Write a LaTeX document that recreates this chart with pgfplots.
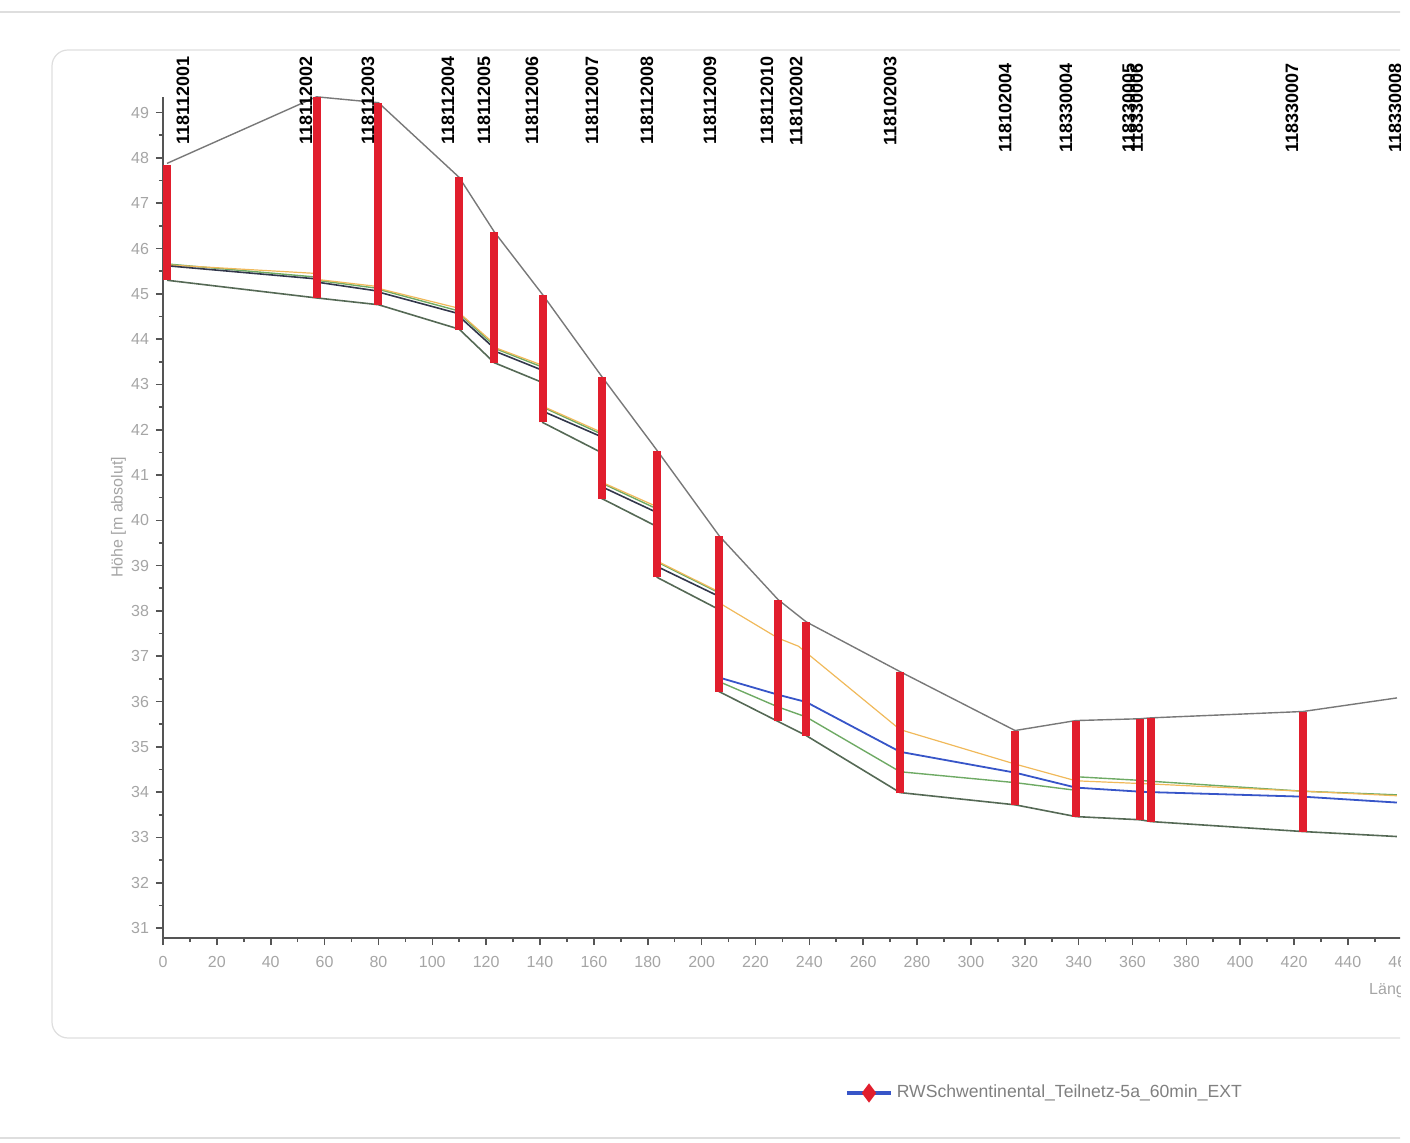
\documentclass[border=0pt]{standalone}
\usepackage{fontspec}
\setmainfont{Liberation Sans}
\usepackage{pgfplots}
\pgfplotsset{compat=1.18}

\definecolor{ground}{RGB}{120,120,120}
\definecolor{invert}{RGB}{85,105,85}
\definecolor{crown}{RGB}{110,170,100}
\definecolor{water}{RGB}{55,85,200}
\definecolor{waterdark}{RGB}{50,55,75}
\definecolor{energy}{RGB}{240,185,90}
\definecolor{shaft}{RGB}{225,30,45}
\definecolor{ticklab}{RGB}{165,165,165}
\definecolor{axisgray}{RGB}{85,85,85}
\definecolor{framec}{RGB}{222,222,222}

\begin{document}
\begin{tikzpicture}
\useasboundingbox (0,0) rectangle (705pt,571pt);
\clip (0,0) rectangle (700pt,571pt);
\draw[framec, line width=0.6pt] (0,565pt) -- (705pt,565pt);
\draw[framec, line width=0.6pt, rounded corners=8pt] (705pt,546pt) -- (26pt,546pt) -- (26pt,52pt) -- (705pt,52pt);
\draw[framec, line width=0.6pt] (0,2pt) -- (705pt,2pt);

\begin{axis}[
  at={(81.5pt,102pt)}, anchor=south west,
  scale only axis, width=619.4pt, height=420.6pt,
  xmin=0, xmax=460, ymin=30.78, ymax=49.35,
  axis x line=bottom, axis y line=left,
  axis line style={-, axisgray, line width=1pt},
  xtick={0,20,...,460}, minor x tick num=1,
  ytick={31,...,49}, minor y tick num=1,
  tick align=outside, major tick length=3.5pt, minor tick length=2pt,
  tick style={axisgray, line width=0.8pt},
  ticklabel style={font=\fontsize{8}{8}\selectfont, text=ticklab},
  xticklabel style={yshift=-2.2pt},
  /pgf/number format/assume math mode=true,
  ylabel={Höhe [m absolut]},
  ylabel style={at={(axis description cs:-0.036,0.5)}, anchor=center, font=\fontsize{8}{8}\selectfont, text=ticklab},
  xlabel={Länge [m]},
  xlabel style={at={(axis description cs:0.968,-0.062)}, anchor=west, font=\fontsize{8}{8}\selectfont, text=ticklab},
  clip=false,
  unbounded coords=jump,
  legend style={at={(axis description cs:0.5504,-0.1843)}, anchor=west, draw=none, fill=none,
    inner xsep=0pt, font=\fontsize{8.8}{8.8}\selectfont, text=gray},
  legend image code/.code={\draw[#1, mark repeat=2, mark phase=2] plot coordinates {(0cm,0cm) (0.39cm,0cm) (0.78cm,0cm)};},
]
% ground
\addplot[ground, line width=0.7pt, forget plot] coordinates {
(1.5,47.88) (57,49.35) (80,49.22) (110,47.57) (123,46.37) (141,44.98) (163,43.17) (183.5,41.54) (206.5,39.66) (228.4,38.25) (238.8,37.76) (273.7,36.66) (316.4,35.36) (339,35.58) (362.8,35.62) (366.9,35.64) (423.3,35.78) (458.2,36.08)};
% invert
\addplot[invert, line width=0.8pt, forget plot] coordinates {
(1.5,45.30) (57,44.91) (80,44.76) (110,44.22) (123,43.48) (141,43.04) (141,42.16) (163,41.49) (163,40.48) (183.5,39.86) (183.5,38.74) (206.5,38.03) (206.5,36.22) (228.4,35.56) (238.8,35.25) (273.7,33.99) (316.4,33.72) (339,33.46) (362.8,33.39) (366.9,33.35) (423.3,33.13) (458.2,33.02)};
% crown
\addplot[crown, line width=0.7pt, forget plot] coordinates {
(1.5,45.66) (57,45.37) (57,45.30) (80,45.12) (80,45.10) (110,44.62) (110,44.56) (123,43.86) (123,43.80) (141,43.38) (141,42.50) (163,41.90) (163,40.82) (183.5,40.25) (183.5,39.08) (206.5,38.40) (206.5,36.44) (228.4,35.88) (238.8,35.66) (273.7,34.45) (316.4,34.21) (339,34.04) (339,34.34) (362.8,34.26) (366.9,34.24) (423.3,34.02) (458.2,33.94)};
% energy / max level
\addplot[energy, line width=0.6pt, forget plot] coordinates {
(1.5,45.64) (57,45.45) (57,45.32) (80,45.16) (80,45.12) (110,44.68) (110,44.58) (123,43.90) (123,43.82) (141,43.42) (141,42.52) (163,41.94) (163,40.84) (183.5,40.30) (183.5,39.10) (206.5,38.42) (206.5,38.18) (228.4,37.40) (236,37.22) (273.7,35.38) (316.4,34.62) (339,34.25) (366.9,34.18) (423.3,34.02) (458.2,33.92)};
% water level (upstream part, dark)
\addplot[waterdark, line width=0.8pt, forget plot] coordinates {
(1.5,45.62) (57,45.33) (57,45.26) (80,45.06) (80,45.04) (110,44.56) (110,44.50) (123,43.80) (123,43.74) (141,43.31) (141,42.41) (163,41.84) (163,40.74) (183.5,40.17) (183.5,38.98) (206.5,38.32) (206.5,36.53)};
% water level (blue)
\addplot[water, line width=0.9pt, forget plot] coordinates {
(206.5,36.53) (228.4,36.15) (238.8,35.99) (273.7,34.89) (316.4,34.43) (339,34.10) (362.8,34.01) (366.9,34.00) (423.3,33.90) (458.2,33.77)};
% manholes
\addplot[shaft, line width=4pt, forget plot] coordinates {
(1.5,45.30) (1.5,47.85) (1.5,nan)
(57,44.90) (57,49.35) (57,nan)
(80,44.76) (80,49.22) (80,nan)
(110,44.20) (110,47.57) (110,nan)
(123,43.48) (123,46.37) (123,nan)
(141,42.16) (141,44.98) (141,nan)
(163,40.48) (163,43.17) (163,nan)
(183.5,38.74) (183.5,41.54) (183.5,nan)
(206.5,36.22) (206.5,39.66) (206.5,nan)
(228.4,35.56) (228.4,38.25) (228.4,nan)
(238.8,35.25) (238.8,37.76) (238.8,nan)
(273.7,33.97) (273.7,36.66) (273.7,nan)
(316.4,33.72) (316.4,35.36) (316.4,nan)
(339,33.46) (339,35.58) (339,nan)
(362.8,33.39) (362.8,35.62) (362.8,nan)
(366.9,33.35) (366.9,35.64) (366.9,nan)
(423.3,33.13) (423.3,35.78)};
\addlegendimage{water, line width=1.6pt, mark=diamond*, mark size=3.5pt, mark options={shaft, fill=shaft}}
\addlegendentry{RWSchwentinental\_Teilnetz-5a\_60min\_EXT}
% manhole names
\begin{scope}[every node/.style={rotate=90, anchor=east, inner sep=0pt, font=\fontsize{9}{9}\selectfont\bfseries}]
\node at (axis cs:7.4,50.24) {118112001};
\node at (axis cs:53.1,50.24) {118112002};
\node at (axis cs:76.1,50.24) {118112003};
\node at (axis cs:105.8,50.24) {118112004};
\node at (axis cs:119.2,50.24) {118112005};
\node at (axis cs:137.0,50.24) {118112006};
\node at (axis cs:159.3,50.24) {118112007};
\node at (axis cs:179.7,50.24) {118112008};
\node at (axis cs:203.1,50.24) {118112009};
\node at (axis cs:224.3,50.24) {118112010};
\node at (axis cs:235.1,50.24) {118102002};
\node at (axis cs:270.0,50.24) {118102003};
\node at (axis cs:312.7,50.1) {118102004};
\node at (axis cs:335.3,50.1) {118330004};
\node at (axis cs:358.6,50.1) {118330005};
\node at (axis cs:361.6,50.1) {118330006};
\node at (axis cs:419.2,50.1) {118330007};
\node at (axis cs:457.5,50.1) {118330008};
\end{scope}
\end{axis}
\end{tikzpicture}
\end{document}
